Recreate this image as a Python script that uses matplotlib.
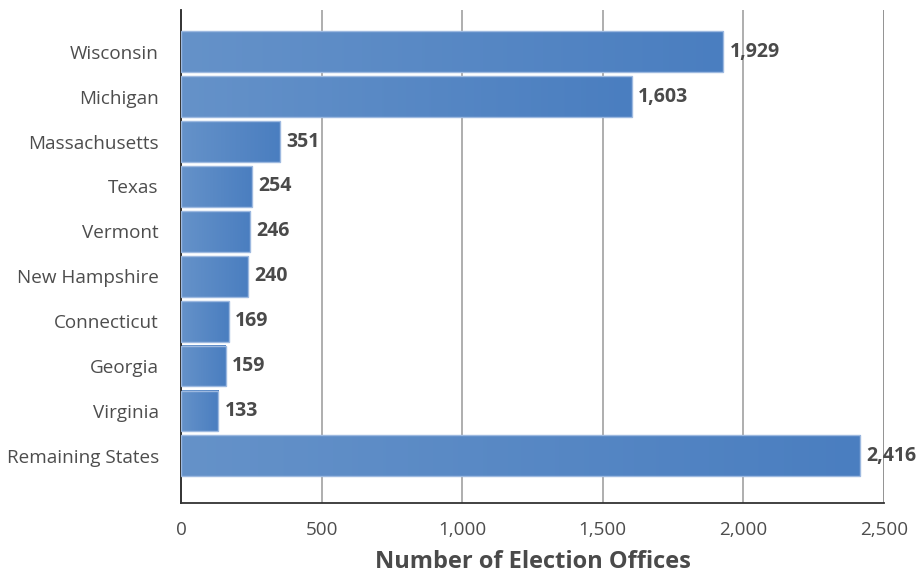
import matplotlib
matplotlib.use("Agg")
import matplotlib.pyplot as plt
import numpy as np
from matplotlib.colors import LinearSegmentedColormap

categories = ["Wisconsin", "Michigan", "Massachusetts", "Texas", "Vermont",
              "New Hampshire", "Connecticut", "Georgia", "Virginia", "Remaining States"]
values = [1929, 1603, 351, 254, 246, 240, 169, 159, 133, 2416]
xticks = [0, 500, 1000, 1500, 2000, 2500]
xticklabels = ["0", "500", "1,000", "1,500", "2,000", "2,500"]

plt.rcParams['font.family'] = ['Open Sans', 'DejaVu Sans']

fig = plt.figure(figsize=(9.23, 5.74), dpi=100)
ax = fig.add_axes([181/923, 71/574, (884-181)/923, (503-10)/574])

cmap = LinearSegmentedColormap.from_list("g", ["#6592c9", "#4a7ec0"])
grad = np.linspace(0, 1, 256).reshape(1, -1)
h = 0.91
ypos = np.arange(len(categories))
for y, v in zip(ypos, values):
    ax.imshow(grad, cmap=cmap, aspect='auto', extent=(0, v, y + h/2, y - h/2),
              zorder=2, interpolation='bicubic')
    ax.add_patch(plt.Rectangle((0, y - h/2), v, h, fill=False,
                               edgecolor="#9db9e0", lw=1.0, zorder=3))
    ax.text(v + 22, y, f"{v:,}", va='center', ha='left', fontsize=14,
            fontweight='bold', color='#4a4a4a', zorder=4)

ax.set_xlim(0, 2500)
ax.set_ylim(9 + 1.05, -0.93)
ax.set_yticks(ypos)
ax.set_yticklabels(categories, fontsize=13.6, color='#4d4d4d')
ax.set_xticks(xticks)
ax.set_xticklabels(xticklabels, fontsize=13.6, color='#4d4d4d')
ax.tick_params(axis='x', length=0, pad=13)
ax.tick_params(axis='y', length=0, pad=16)
for x in xticks[1:]:
    ax.axvline(x, color='#a8a8a8' if x < 2500 else '#8a8a8a', lw=1.3, zorder=1)
for s in ['top', 'right']:
    ax.spines[s].set_visible(False)
ax.spines['left'].set_color('#222222')
ax.spines['bottom'].set_color('#333333')
ax.spines['left'].set_linewidth(1.3)
ax.spines['bottom'].set_linewidth(1.3)
ax.set_xlabel("Number of Election Offices", fontsize=17, fontweight='bold',
              color='#4a4a4a', labelpad=8)

fig.savefig("out.png", dpi=100)
